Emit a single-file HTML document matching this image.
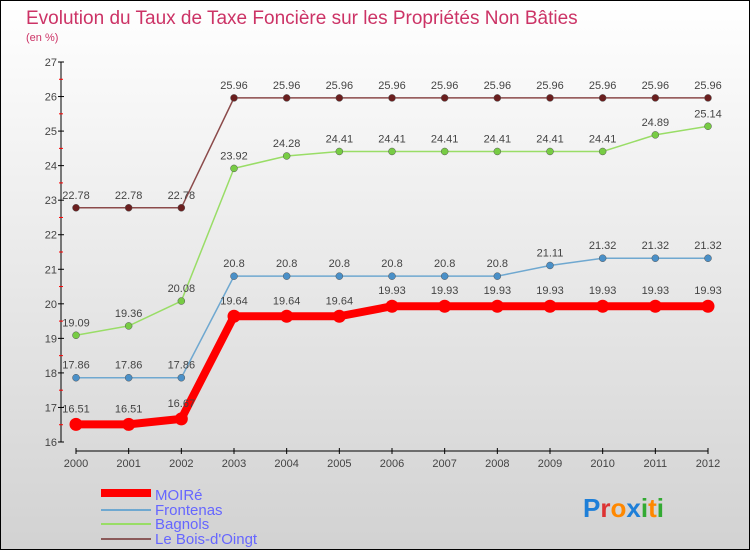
<!DOCTYPE html>
<html><head><meta charset="utf-8"><style>
body{margin:0}
#wrap{position:relative;width:750px;height:550px;box-sizing:border-box;border:1px solid #000;background:linear-gradient(#ffffff,#d2d2d2);font-family:"Liberation Sans",sans-serif;overflow:hidden}
</style></head><body>
<div id="wrap">
<svg id="svg" width="748" height="548" xmlns="http://www.w3.org/2000/svg">
<text x="25" y="23" font-size="19" fill="#cc3366">Evolution du Taux de Taxe Foncière sur les Propriétés Non Bâties</text>
<text x="25" y="40" font-size="11" fill="#cc3366">(en %)</text>
<g id="axes"></g><g id="series"></g>
<g>
<rect x="100" y="488" width="50" height="8" fill="#ff0000"/>
<text x="154" y="499" font-size="15" fill="#6666ff">MOIRé</text>
<rect x="100" y="508" width="50" height="2" fill="#6fa8d0"/>
<text x="154" y="514" font-size="15" fill="#6666ff">Frontenas</text>
<rect x="100" y="522" width="50" height="2" fill="#99dd66"/>
<text x="154" y="528" font-size="15" fill="#6666ff">Bagnols</text>
<rect x="100" y="537" width="50" height="2" fill="#8b5a5a"/>
<text x="154" y="543" font-size="15" fill="#6666ff">Le Bois-d'Oingt</text>
</g>
<text x="582" y="516" font-size="26" font-weight="bold"><tspan fill="#1e7fd8">P</tspan><tspan fill="#dd3333">r</tspan><tspan fill="#ff8800">o</tspan><tspan fill="#1e7fd8">x</tspan><tspan fill="#33aa33">i</tspan><tspan fill="#ff8800">t</tspan><tspan fill="#33aa33">i</tspan></text>
</svg>
</div>
<script>
const years=[2000,2001,2002,2003,2004,2005,2006,2007,2008,2009,2010,2011,2012];
const yTicks=[16,17,18,19,20,21,22,23,24,25,26,27];
const moire=[16.51,16.51,16.67,19.64,19.64,19.64,19.93,19.93,19.93,19.93,19.93,19.93,19.93];
const frontenas=[17.86,17.86,17.86,20.8,20.8,20.8,20.8,20.8,20.8,21.11,21.32,21.32,21.32];
const bagnols=[19.09,19.36,20.08,23.92,24.28,24.41,24.41,24.41,24.41,24.41,24.41,24.89,25.14];
const leBois=[22.78,22.78,22.78,25.96,25.96,25.96,25.96,25.96,25.96,25.96,25.96,25.96,25.96];
const NS="http://www.w3.org/2000/svg";
const X=i=>75+i*(632/12);
const Y=v=>441-(v-16)*(380/11);
function mk(t,a,p){const e=document.createElementNS(NS,t);for(const k in a)e.setAttribute(k,a[k]);p.appendChild(e);return e;}
const ax=document.getElementById('axes');
let e=mk('line',{x1:60,y1:Y(27),x2:60,y2:Y(16),stroke:'#000','stroke-width':1},ax);


yTicks.forEach(v=>{
 let t=mk('line',{x1:57,x2:63,y1:Y(v),y2:Y(v),stroke:'#000'},ax);
 
 
 if(v<27){let m=mk('line',{x1:58,x2:62,y1:Y(v+0.5),y2:Y(v+0.5),stroke:'#ff0000'},ax);
 
 }
 let l=mk('text',{x:56,y:Y(v)+4,'font-size':11,fill:'#444','text-anchor':'end'},ax);l.textContent=v;
 
 
});
e=mk('line',{x1:X(0),y1:450,x2:X(12),y2:450,stroke:'#000'},ax);


years.forEach((yr,i)=>{
 let t=mk('line',{x1:X(i),x2:X(i),y1:447,y2:453,stroke:'#000'},ax);
 
 
 let l=mk('text',{x:X(i),y:466,'font-size':11,fill:'#444','text-anchor':'middle'},ax);l.textContent=yr;
 
 
});
const sg=document.getElementById('series');
function draw(data,name,color,dot,w,r){
 const g=mk('g',{},sg);
 
 
 const p=mk('polyline',{points:data.map((v,i)=>X(i)+','+Y(v)).join(' '),fill:'none',stroke:color,'stroke-width':w},g);
 
 
 data.forEach((v,i)=>{
  const c=mk('circle',{cx:X(i),cy:Y(v),r:r,fill:dot,stroke:w>3?'none':'#555','stroke-width':0.5},g);
  
  
  const t=mk('text',{x:X(i),y:Y(v)-(w>3?12:9),'font-size':11,fill:'#444','text-anchor':'middle'},g);
  t.textContent=v;
  
  
 });
}
draw(leBois,'le-bois','#8b4a4a','#6b1f1f',1.5,3.5);
draw(bagnols,'bagnols','#99dd66','#77cc44',1.5,3.5);
draw(frontenas,'frontenas','#6fa8d0','#4a90c8',1.5,3.5);
draw(moire,'moire','#ff0000','#ff0000',8,6.5);
</script>
</body></html>
